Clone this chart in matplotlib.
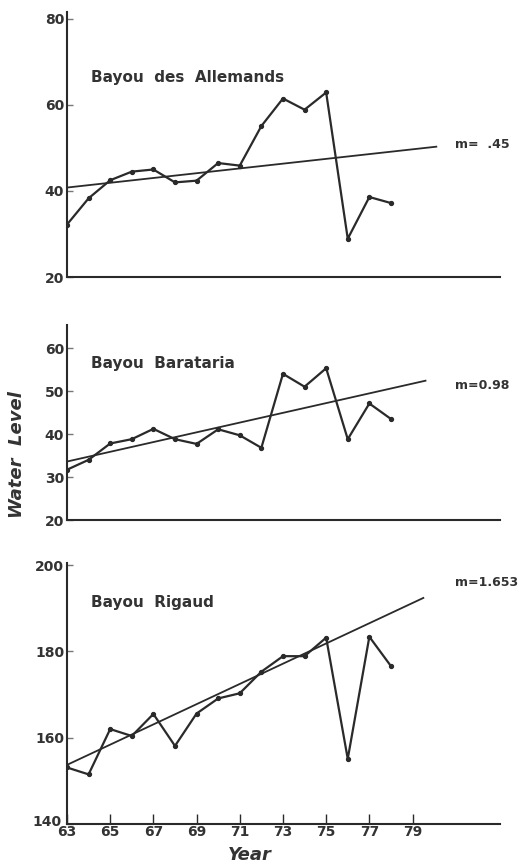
import matplotlib

matplotlib.use("Agg")
import matplotlib.pyplot as plt
from matplotlib.transforms import ScaledTranslation

YEARS = [63, 64, 65, 66, 67, 68, 69, 70, 71, 72, 73, 74, 75, 76, 77, 78]
ALLEMANDS = [32.2, 38.3, 42.5, 44.5, 45.0, 42.0, 42.4, 46.5, 45.9, 55.1,
             61.5, 58.9, 62.9, 28.9, 38.6, 37.2]
BARATARIA = [31.7, 34.0, 37.8, 38.8, 41.2, 38.8, 37.7, 41.1, 39.7, 36.8,
             54.0, 51.0, 55.3, 38.8, 47.1, 43.5]
RIGAUD = [153.1, 151.5, 162.0, 160.4, 165.5, 158.1, 165.6, 169.1, 170.3,
          175.3, 178.9, 178.9, 183.2, 155.1, 183.4, 176.6]

# trend lines: (start year, end year), (start value, end value)
ALLEMANDS_TREND = ([63, 80.1], [40.8, 50.3])
BARATARIA_TREND = ([63, 79.6], [33.6, 52.4])
RIGAUD_TREND = ([63, 79.5], [153.7, 192.4])

ALLEMANDS_TICKS = [20, 40, 60, 80]
BARATARIA_TICKS = [20, 30, 40, 50, 60]
RIGAUD_TICKS = [140, 160, 180, 200]
YEAR_TICKS = [63, 65, 67, 69, 71, 73, 75, 77, 79]

INK = "#2a2a2a"
TEXT = "#333333"

plt.rcParams["font.family"] = ["DejaVu Sans"]
plt.rcParams["font.weight"] = "bold"

figure = plt.figure(figsize=(5.25, 8.66), dpi=100, facecolor="white")

panels = [
    # rect, data, trend, ticks, ylim, title, title_y, slope label, slope_y
    ([0.1276, 0.6801, 0.8248, 0.3060], ALLEMANDS, ALLEMANDS_TREND,
     ALLEMANDS_TICKS, (20, 81.6), "Bayou  des  Allemands", 66.3, "m=  .45", 50.9),
    ([0.1276, 0.3995, 0.8248, 0.2252], BARATARIA, BARATARIA_TREND,
     BARATARIA_TICKS, (20, 65.35), "Bayou  Barataria", 56.3, "m=0.98", 51.4),
    ([0.1276, 0.0485, 0.8248, 0.3014], RIGAUD, RIGAUD_TREND,
     RIGAUD_TICKS, (140, 200.5), "Bayou  Rigaud", 191.4, "m=1.653", 196.0),
]

axes = []
for rect, values, trend, ticks, ylim, title, title_y, slope, slope_y in panels:
    axis = figure.add_axes(rect)
    axis.plot(trend[0], trend[1], color=INK, linewidth=1.3)
    axis.plot(YEARS, values, color=INK, linewidth=1.6, marker="o",
              markersize=2.8)
    axis.set_xlim(63, 83.05)
    axis.set_ylim(*ylim)
    axis.set_yticks(ticks)
    axis.set_facecolor("none")
    for side in ("top", "right"):
        axis.spines[side].set_visible(False)
    for side in ("left", "bottom"):
        axis.spines[side].set_color(INK)
        axis.spines[side].set_linewidth(1.5)
    axis.tick_params(axis="y", direction="in", length=4, width=1,
                     color="#777777", labelsize=10, labelcolor=TEXT, pad=2)
    axis.set_xticks([])
    axis.text(64.1, title_y, title, fontsize=11, color=TEXT, va="center")
    axis.text(80.96, slope_y, slope, fontsize=9, color=TEXT, va="center")
    axes.append(axis)

bottom_axis = axes[-1]
bottom_axis.set_xticks(YEAR_TICKS)
bottom_axis.tick_params(axis="x", direction="in", length=7, width=1,
                        color=INK, labelsize=10, labelcolor=TEXT, pad=1)

# the "140" label sits a touch higher and left, as in the original
nudge = ScaledTranslation(-3 / 100, 3 / 100, figure.dpi_scale_trans)
first_label = bottom_axis.get_yticklabels()[0]
first_label.set_transform(first_label.get_transform() + nudge)

figure.text(0.476, 0.013, "Year", fontsize=13, style="italic", color=TEXT,
            ha="center", va="center")
figure.text(0.033, 0.475, "Water  Level", fontsize=13, style="italic",
            color=TEXT, ha="center", va="center", rotation=90)

figure.savefig("out.png", dpi=100, facecolor="white")
plt.close(figure)
